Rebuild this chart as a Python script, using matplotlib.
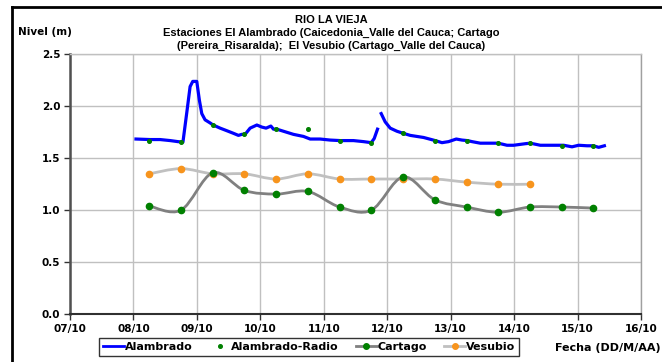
import numpy as np
import matplotlib.pyplot as plt
from matplotlib.lines import Line2D
from matplotlib.path import Path
from matplotlib.patches import PathPatch

# Tiempo en dias (07/10 = 7.0), niveles en metros
fechas_ticks = [7, 8, 9, 10, 11, 12, 13, 14, 15, 16]
etiquetas_fechas = ['07/10', '08/10', '09/10', '10/10', '11/10',
                    '12/10', '13/10', '14/10', '15/10', '16/10']

# Alambrado (registro continuo), con un hueco el 11/10 por la noche
alambrado_t = [8.04, 8.26, 8.42, 8.58, 8.70, 8.78, 8.845, 8.893, 8.935, 8.998,
               9.039, 9.077, 9.129, 9.208, 9.256, 9.366, 9.472, 9.576, 9.655,
               9.708, 9.760, 9.839, 9.945, 10.024, 10.091, 10.166, 10.207,
               10.260, 10.364, 10.522, 10.680, 10.785, 10.943, 11.101, 11.259,
               11.468, 11.626, 11.748, 11.795, 11.847, 11.87, 11.905, 11.968,
               12.047, 12.153, 12.252, 12.363, 12.468, 12.573, 12.757, 12.863,
               12.967, 13.088, 13.178, 13.262, 13.336, 13.467, 13.751, 13.888,
               13.992, 14.177, 14.256, 14.413, 14.623, 14.781, 14.913, 15.017,
               15.150, 15.249, 15.333, 15.423]
alambrado_v = [1.685, 1.68, 1.68, 1.67, 1.66, 1.655, 1.96, 2.19, 2.24, 2.24,
               2.06, 1.93, 1.87, 1.84, 1.82, 1.79, 1.765, 1.74, 1.72,
               1.73, 1.73, 1.79, 1.82, 1.80, 1.79, 1.81, 1.78,
               1.78, 1.76, 1.73, 1.71, 1.685, 1.685, 1.675, 1.67,
               1.67, 1.66, 1.65, 1.69, 1.78, np.nan, 1.93, 1.85,
               1.79, 1.76, 1.74, 1.72, 1.71, 1.70, 1.67, 1.65,
               1.66, 1.685, 1.675, 1.67, 1.66, 1.645, 1.645, 1.625,
               1.625, 1.64, 1.645, 1.625, 1.625, 1.625, 1.61, 1.625,
               1.62, 1.62, 1.605, 1.62]

# Lecturas por radio, cada 12 horas
radio_t = [8.25, 8.75, 9.25, 9.75, 10.25, 10.75, 11.25, 11.75,
           12.25, 12.75, 13.25, 13.75, 14.25, 14.75, 15.25]
radio_v = [1.67, 1.655, 1.82, 1.73, 1.78, 1.78, 1.67, 1.65,
           1.74, 1.67, 1.67, 1.645, 1.645, 1.62, 1.62]

cartago_t = [8.25, 8.75, 9.25, 9.75, 10.25, 10.75, 11.25, 11.75,
             12.25, 12.75, 13.25, 13.75, 14.25, 14.75, 15.25]
cartago_v = [1.04, 1.00, 1.36, 1.19, 1.155, 1.18, 1.03, 1.00,
             1.32, 1.10, 1.03, 0.98, 1.03, 1.03, 1.02]

vesubio_t = [8.25, 8.75, 9.25, 9.75, 10.25, 10.75, 11.25, 11.75,
             12.25, 12.75, 13.25, 13.75, 14.25]
vesubio_v = [1.35, 1.40, 1.35, 1.35, 1.30, 1.35, 1.30, 1.30,
             1.30, 1.30, 1.27, 1.25, 1.25]

AZUL = '#0000FF'
VERDE = '#008000'
GRIS = '#808080'
PLATA = '#C0C0C0'
NARANJA = '#F7941D'


def curva_suave(t, v):
    # linea suavizada tipo Excel (Bezier por Catmull-Rom)
    pts = np.column_stack([t, v])
    n = len(pts)
    verts = [pts[0]]
    codes = [Path.MOVETO]
    for i in range(n - 1):
        p0 = pts[max(i - 1, 0)]
        p1 = pts[i]
        p2 = pts[i + 1]
        p3 = pts[min(i + 2, n - 1)]
        verts += [p1 + (p2 - p0) / 6.0, p2 - (p3 - p1) / 6.0, p2]
        codes += [Path.CURVE4] * 3
    return Path(verts, codes)


fuente = {'family': 'DejaVu Sans', 'weight': 'bold', 'size': 7.5}
fuente_ley = {'family': 'DejaVu Sans', 'weight': 'bold', 'size': 8}

fig = plt.figure(figsize=(6.62, 3.62), dpi=100)
ax = fig.add_axes([70 / 662, 1 - 314 / 362, 571 / 662, 259.6 / 362])

ax.add_patch(PathPatch(curva_suave(vesubio_t, vesubio_v), fill=False,
                       edgecolor=PLATA, lw=2.0, zorder=3))
ax.plot(vesubio_t, vesubio_v, 'o', color=NARANJA, ms=4.5, zorder=4)

ax.add_patch(PathPatch(curva_suave(cartago_t, cartago_v), fill=False,
                       edgecolor=GRIS, lw=2.0, zorder=3))
ax.plot(cartago_t, cartago_v, 'o', color=VERDE, ms=4.5, zorder=4)

ax.plot(alambrado_t, alambrado_v, '-', color=AZUL, lw=2.3, zorder=5)
ax.plot(radio_t, radio_v, 'o', color=VERDE, ms=2.6, zorder=6)

ax.set_xlim(7, 16)
ax.set_ylim(0, 2.5)
ax.set_xticks(fechas_ticks)
ax.set_xticklabels(etiquetas_fechas)
ax.set_yticks([0.0, 0.5, 1.0, 1.5, 2.0, 2.5])
ax.set_yticklabels(['0.0', '0.5', '1.0', '1.5', '2.0', '2.5'])
for lab in ax.get_xticklabels() + ax.get_yticklabels():
    lab.set_fontproperties(fuente)

ax.grid(True, color=PLATA, lw=1.0)
ax.set_axisbelow(True)
ax.tick_params(direction='out', length=4, width=1, color='#333333', pad=3)
ax.spines['top'].set_color(PLATA)
ax.spines['top'].set_linewidth(1.0)
ax.spines['right'].set_color('#A0A0A0')
ax.spines['right'].set_linewidth(1.0)
ax.spines['left'].set_color('#505050')
ax.spines['left'].set_linewidth(1.8)
ax.spines['bottom'].set_color('#303030')
ax.spines['bottom'].set_linewidth(1.5)

# marco exterior del grafico (abierto por la derecha y por abajo)
y_marco = 1 - 6.5 / 362
fig.add_artist(Line2D([12 / 662, 12 / 662], [-0.1, y_marco],
                      transform=fig.transFigure, color='black', lw=2.0))
fig.add_artist(Line2D([12 / 662, 1.1], [y_marco, y_marco],
                      transform=fig.transFigure, color='black', lw=2.0))

titulo = ['RIO LA VIEJA',
          'Estaciones El Alambrado (Caicedonia_Valle del Cauca; Cartago',
          '(Pereira_Risaralda);  El Vesubio (Cartago_Valle del Cauca)']
for k, linea in enumerate(titulo):
    fig.text(331 / 662, 1 - (20 + 13 * k) / 362, linea, ha='center',
             va='center', family='Liberation Sans', weight='bold', size=8)

fig.text(18 / 662, 1 - 32 / 362, 'Nivel (m)', ha='left', va='center',
         fontdict=fuente)
fig.text(661 / 662, 1 - 348 / 362, 'Fecha (DD/M/AA)', ha='right',
         va='center', fontdict=fuente_ley)

manejadores = [
    Line2D([], [], color=AZUL, lw=2.0),
    Line2D([], [], ls='none', marker='o', color=VERDE, ms=2.6),
    Line2D([], [], color=GRIS, lw=2.0, marker='o', mfc=VERDE, mec=VERDE, ms=4),
    Line2D([], [], color=PLATA, lw=2.0, marker='o', mfc=NARANJA, mec=NARANJA, ms=4),
]
nombres = ['Alambrado', 'Alambrado-Radio', 'Cartago', 'Vesubio']
ley = fig.legend(manejadores, nombres, loc='center',
                 bbox_to_anchor=(309 / 662, 1 - 347 / 362), ncol=4,
                 prop=fuente_ley, frameon=True, fancybox=False,
                 handlelength=1.9, handletextpad=0.1, columnspacing=1.5,
                 borderpad=0.35, borderaxespad=0)
ley.get_frame().set_edgecolor('black')
ley.get_frame().set_linewidth(1.0)

fig.savefig('out.png', dpi=100)
